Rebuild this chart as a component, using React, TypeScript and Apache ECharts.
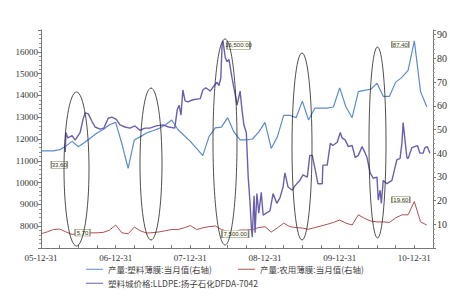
import React, { useEffect, useRef } from 'react';
import * as echarts from 'echarts';

const yearLabels = ['05-12-31', '06-12-31', '07-12-31', '08-12-31', '09-12-31', '10-12-31'];

const seriesNames = [
  '产量:塑料薄膜:当月值(右轴)',
  '产量:农用薄膜:当月值(右轴)',
  '塑料城价格:LLDPE:扬子石化DFDA-7042',
];

// monthly, month 0 = 2005-12
const blueValues = [
  41, 41, 41, 41.5, 43, 45, 42.7, 44.5, 46.5, 48.5, 50, 52, 53, 44, 33.6, 45.6, 47, 48.6, 49.5, 50.5,
  52, 54, 50, 47.5, 45, 42, 39, 47, 50.7, 51, 55, 49, 45.6, 45.6, 46, 49, 53, 42, 47, 56,
  56, 55, 62, 54, 59, 59, 59, 59.5, 67.6, 59.6, 55, 66, 66.5, 67, 69.5, 64, 64, 70, 72, 75,
  87.4, 66, 59.6,
];

const redValues = [
  6.0, 6.8, 7.8, 8.0, 6.8, 5.7, 6.3, 6.5, 6.4, 6.4, 6.6, 7.5, 9.7, 6.4, 6.0, 8.8, 7.2, 6.3, 6.5, 6.8,
  7.3, 7.8, 7.8, 8.5, 9.5, 7.8, 8.5, 9.0, 9.3, 7.8, 7.0, 6.8, 7.6, 7.6, 7.8, 8.6, 9.0, 6.7, 8.5, 10.5,
  9.0, 8.6, 8.4, 7.9, 8.6, 9.3, 10.0, 10.8, 11.8, 10.5, 9.7, 14.0, 12.5, 11.4, 11.0, 11.0, 10.8, 12.7, 14.0, 14.0,
  19.6, 11.0, 9.7,
];

// LLDPE price, x in months since 2005-12-31
const purpleMonths = [
  3.9, 4.0, 4.3, 5.0, 5.5, 6.3, 6.75, 7.1, 7.6, 8.2, 8.7, 9.5, 10.1, 10.8, 11.4, 12.1, 12.7, 13.5, 14.3, 15.1,
  15.9, 16.7, 17.5, 18.5, 19.6, 20.5, 21.5, 21.9, 22.2, 22.5, 22.8, 23.15, 23.6, 24.4, 25.6, 26.0, 26.5, 27.2, 27.7, 28.3,
  28.6, 28.9, 29.1, 29.25, 29.6, 29.9, 30.2, 30.7, 31.2, 31.5, 31.7, 32.0, 32.3, 32.6, 33.0, 33.1, 33.3, 33.6, 33.8, 33.95,
  34.1, 34.25, 34.4, 34.7, 35.0, 35.4, 35.7, 36.2, 36.8, 37.3, 37.9, 38.4, 38.9, 39.2, 39.7, 40.4, 40.8, 41.6, 42.1, 42.8,
  43.2, 43.6, 44.1, 44.5, 45.2, 45.3, 46.0, 46.5, 46.9, 47.6, 48.1, 48.4, 48.9, 49.4, 50.0, 50.5, 51.0, 51.6, 52.1, 52.4,
  52.9, 53.4, 54.0, 54.2, 54.5, 54.7, 55.0, 55.6, 56.4, 56.9, 57.2, 57.7, 58.0, 58.2, 58.5, 58.8, 59.0, 59.6, 60.5, 60.9,
  61.4, 61.7, 62.1, 62.5,
];
const purplePrices = [
  11400, 12300, 12050, 12150, 11950, 12300, 12900, 13200, 13150, 12800, 12550, 12450, 12500, 12950, 13000, 12900, 12650, 12550, 12500, 12600,
  12400, 12500, 12500, 12600, 12650, 12550, 12500, 13350, 13550, 13100, 14250, 13750, 13700, 13800, 13850, 14250, 14350, 14200, 14400, 14600,
  14450, 14800, 16300, 16500, 15750, 15550, 15650, 14800, 14050, 13550, 13800, 14200, 13350, 12650, 12300, 11600, 10250, 9050, 8000, 7500,
  8500, 9400, 7700, 9500, 8600, 9550, 8500, 8600, 8700, 9500, 9050, 9300, 9800, 10450, 9800, 9650, 9850, 10100, 10350, 10250,
  11250, 11250, 10550, 9950, 9950, 10800, 10800, 11800, 11700, 11850, 12300, 12050, 11950, 11650, 11700, 11150, 11250, 11650, 11350, 11150,
  10450, 10200, 10250, 9200, 9650, 9050, 10100, 9950, 10100, 10700, 11050, 11100, 11800, 12750, 11950, 11150, 11100, 11600, 11700, 11350,
  11350, 11600, 11650, 11350,
];

const ellipses = [
  { cx: 76.5, cy: 169, rx: 12.5, ry: 77 },
  { cx: 151, cy: 164, rx: 11, ry: 76 },
  { cx: 225, cy: 142, rx: 12, ry: 103 },
  { cx: 302, cy: 146.5, rx: 10, ry: 93.5 },
  { cx: 377.5, cy: 142.5, rx: 8.5, ry: 95.5 },
];

const boxStyle = { color: '#fffff2', borderColor: '#7d7d62', borderWidth: 0.8 };
const boxLabel = { show: true, position: 'inside', fontSize: 6, color: '#333', fontFamily: 'Liberation Sans' };

function box(coord: number[], text: string, size: number[], offset: number[]) {
  return {
    coord,
    symbol: 'rect',
    symbolSize: size,
    symbolOffset: offset,
    itemStyle: boxStyle,
    label: { ...boxLabel, formatter: text },
  };
}

export default function App() {
  const ref = useRef<HTMLDivElement>(null);
  useEffect(() => {
    const chart = echarts.init(ref.current!, null, { renderer: 'svg' });
    const axisFont = { fontFamily: "'Liberation Serif', 'DejaVu Serif', serif", fontSize: 9, color: '#333' };
    const axisLine = { show: true, lineStyle: { color: '#777', width: 1 } };
    chart.setOption({
      animation: false,
      backgroundColor: '#fff',
      grid: { left: 41, right: 17, top: 30, bottom: 52 },
      xAxis: {
        type: 'value',
        min: 0,
        max: 63,
        interval: 3,
        axisLine: { ...axisLine, onZero: false },
        axisTick: { show: true, inside: true, length: 3, lineStyle: { color: '#777' } },
        axisLabel: {
          ...axisFont,
          margin: 5,
          showMaxLabel: false,
          formatter: (v: number) => (v % 12 === 0 ? yearLabels[v / 12] : ''),
        },
        splitLine: { show: false },
      },
      yAxis: [
        {
          type: 'value',
          min: 7000,
          max: 17000,
          interval: 1000,
          axisLine,
          axisTick: { show: true, length: 3, lineStyle: { color: '#777' } },
          minorTick: { show: true, splitNumber: 5, length: 2, lineStyle: { color: '#999' } },
          axisLabel: {
            ...axisFont,
            margin: 3,
            formatter: (v: number) => (v === 7000 || v === 17000 ? '' : String(v)),
          },
          splitLine: { show: false },
        },
        {
          type: 'value',
          min: 0,
          max: 92,
          interval: 10,
          position: 'right',
          axisLine,
          axisTick: { show: true, length: 3, lineStyle: { color: '#777' } },
          minorTick: { show: true, splitNumber: 5, length: 2, lineStyle: { color: '#999' } },
          axisLabel: {
            ...axisFont,
            fontSize: 10,
            margin: 4,
            formatter: (v: number) => (v === 0 || v > 90 ? '' : String(v)),
          },
          splitLine: { show: false },
        },
      ],
      legend: [
        { data: [seriesNames[0]], left: 86, top: 265 },
        { data: [seriesNames[1]], left: 238, top: 265 },
        { data: [seriesNames[2]], left: 86, top: 279 },
      ].map((l) => ({
        ...l,
        icon: 'rect',
        itemWidth: 17,
        itemHeight: 1,
        itemGap: 4,
        padding: 0,
        textStyle: { fontFamily: 'Noto Sans CJK SC', fontSize: 8.5, color: '#444' },
      })),
      series: [
        {
          name: seriesNames[0],
          type: 'line',
          yAxisIndex: 1,
          data: blueValues.map((v, i) => [i, v]),
          showSymbol: false,
          lineStyle: { color: '#5b8ccc', width: 1.2 },
          itemStyle: { color: '#5b8ccc' },
          z: 3,
          markPoint: {
            data: [
              box([60, 87.4], '87.40', [17, 6], [-14, 3.6]),
              box([1, 33.6], '33.60', [16, 7], [12, -3.7]),
            ],
          },
        },
        {
          name: seriesNames[1],
          type: 'line',
          yAxisIndex: 1,
          data: redValues.map((v, i) => [i, v]),
          showSymbol: false,
          lineStyle: { color: '#b0504c', width: 1 },
          itemStyle: { color: '#b0504c' },
          z: 3,
          markPoint: {
            data: [
              box([60, 19.6], '19.60', [18, 6], [-13.5, -1.8]),
              box([5, 5.7], '5.70', [15, 6.7], [10.4, -1.8]),
            ],
          },
        },
        {
          name: seriesNames[2],
          type: 'line',
          yAxisIndex: 0,
          data: purpleMonths.map((m, i) => [m, purplePrices[i]]),
          showSymbol: false,
          lineStyle: { color: '#6d5fae', width: 1.4 },
          itemStyle: { color: '#6d5fae' },
          z: 4,
          markPoint: {
            data: [
              box([29.25, 16500], '16,500.00', [23, 7.6], [15.5, 4.5]),
              box([33.95, 7500], '7,500.00', [26.6, 7.4], [-17, -3]),
            ],
          },
        },
      ],
      graphic: ellipses.map((e) => ({
        type: 'ellipse',
        shape: e,
        silent: true,
        z: 100,
        style: { fill: 'none', stroke: '#222', lineWidth: 0.8 },
      })),
    });
    return () => chart.dispose();
  }, []);
  return (
    <div
      ref={ref}
      style={{ position: 'fixed', left: 0, top: 0, width: 450, height: 300, background: '#fff' }}
    />
  );
}
